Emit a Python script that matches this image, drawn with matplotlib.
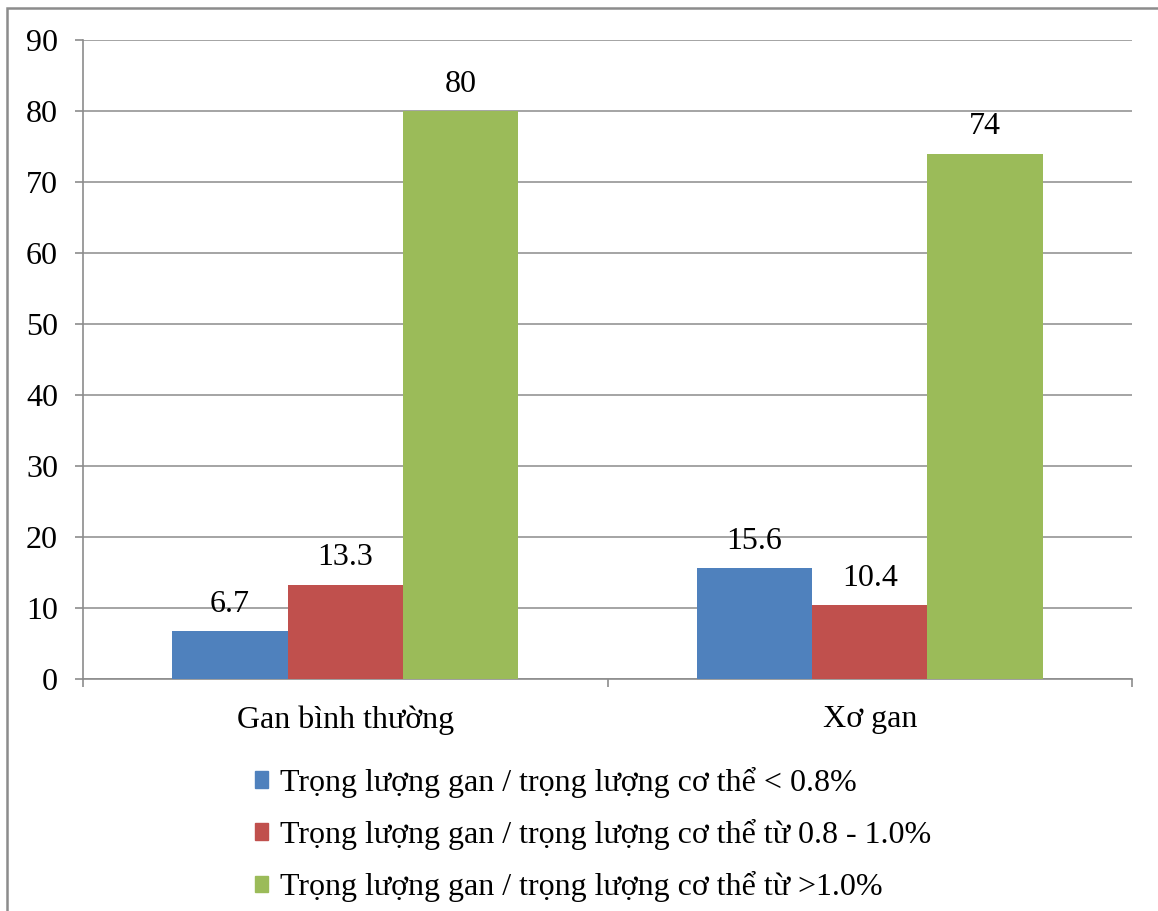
import matplotlib
matplotlib.use("Agg")
import matplotlib.pyplot as plt
from matplotlib.patches import Rectangle
import numpy as np

categories = ["Gan bình thường", "Xơ gan"]
series_labels = [
    "Trọng lượng gan / trọng lượng cơ thể < 0.8%",
    "Trọng lượng gan / trọng lượng cơ thể từ 0.8 - 1.0%",
    "Trọng lượng gan / trọng lượng cơ thể từ >1.0%",
]
below_08 = [6.7, 15.6]
between_08_10 = [13.3, 10.4]
above_10 = [80, 74]
value_labels = [["6.7", "15.6"], ["13.3", "10.4"], ["80", "74"]]
colors = ["#4F81BD", "#C0504D", "#9BBB59"]
y_ticks = [0, 10, 20, 30, 40, 50, 60, 70, 80, 90]

plt.rcParams["font.family"] = ["Liberation Serif", "DejaVu Serif"]
FS = 23

W, H = 1158, 911
fig = plt.figure(figsize=(W / 100, H / 100), dpi=100)

# outer chart border (clipped by the image edge on the right and bottom)
fig.patches.append(Rectangle((7 / W, -0.05), 1.2, 1 - 8 / H + 0.05,
                             transform=fig.transFigure, fill=False,
                             edgecolor="#8c8c8c", linewidth=1.8, zorder=0))

ax = fig.add_axes([83 / W, 1 - 679 / H, (1132 - 83) / W, (679 - 40) / H])

x = np.arange(len(categories))
width = 0.22
series = [below_08, between_08_10, above_10]
for i, (vals, col, lab) in enumerate(zip(series, colors, series_labels)):
    b = ax.bar(x + (i - 1) * width, vals, width, color=col, label=lab, zorder=3)
    for rect, txt in zip(b, value_labels[i]):
        ax.annotate(txt, (rect.get_x() + rect.get_width() / 2, rect.get_height()),
                    xytext=(0, 9), textcoords="offset points",
                    ha="center", va="bottom", fontsize=FS, color="black")

ax.set_xlim(-0.5, 1.5)
ax.set_ylim(0, 90)
ax.set_yticks(y_ticks)
ax.yaxis.grid(True, color="#8c8c8c", linewidth=1.1, zorder=0)
ax.set_axisbelow(True)

for side in ["top", "right"]:
    ax.spines[side].set_visible(False)
for side in ["left", "bottom"]:
    ax.spines[side].set_color("#8c8c8c")
    ax.spines[side].set_linewidth(1.2)

ax.set_xticks(x)
ax.set_xticklabels(categories, fontsize=FS)
ax.set_xticks([-0.5, 0.5, 1.5], minor=True)
ax.tick_params(axis="x", which="major", length=0, pad=19)
ax.tick_params(axis="x", which="minor", length=6, width=1.2, color="#8c8c8c")
ax.tick_params(axis="y", length=6, width=1.2, color="#8c8c8c", labelsize=FS, pad=12)

handles = [Rectangle((0, 0), 1, 1, color=c) for c in colors]
fig.legend(handles, series_labels, loc="upper left",
           bbox_to_anchor=(239 / W, 1 - 751 / H), frameon=False,
           fontsize=FS, handlelength=0.42, handleheight=0.42,
           handletextpad=0.37, labelspacing=0.66, borderpad=0)

fig.savefig("out.png", dpi=100, facecolor="white")
